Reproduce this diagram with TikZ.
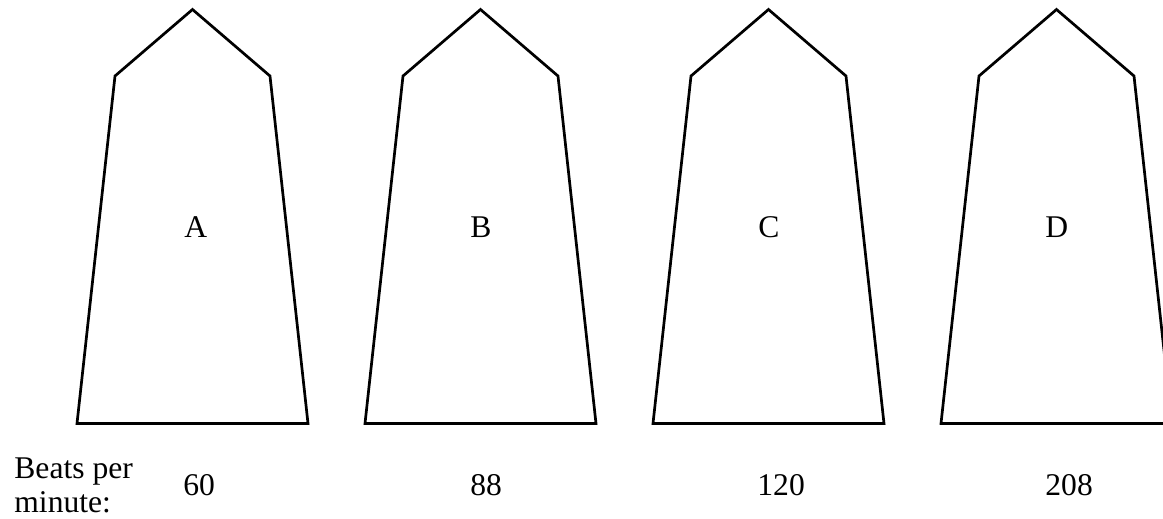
\documentclass[tikz,border=0pt]{standalone}
\usepackage{fontspec}
\setmainfont{Liberation Serif}
\usetikzlibrary{positioning}
\tikzset{
  weight/.style={draw=black, line width=1.35pt, line join=miter},
  tag/.style={anchor=base west, inner sep=0pt, font=\fontsize{15.8}{17}\selectfont},
}

\begin{document}
\begin{tikzpicture}[x=0.5pt,y=-0.5pt]
    \useasboundingbox (0,0) rectangle (1163,519);
    \clip (0,0) rectangle (1163,519);

    % the four weights, 288px apart
    \draw[weight, shift={(192.5,0)}] (-115.5,423.5) -- (-77.5,76) -- (0,9.5) -- (77.5,76) -- (115.5,423.5) -- cycle;
    \draw[weight, shift={(480.5,0)}] (-115.5,423.5) -- (-77.5,76) -- (0,9.5) -- (77.5,76) -- (115.5,423.5) -- cycle;
    \draw[weight, shift={(768.5,0)}] (-115.5,423.5) -- (-77.5,76) -- (0,9.5) -- (77.5,76) -- (115.5,423.5) -- cycle;
    \draw[weight, shift={(1056.5,0)}] (-115.5,423.5) -- (-77.5,76) -- (0,9.5) -- (77.5,76) -- (115.5,423.5) -- cycle;

    \node[tag] (lA) at (184,237) {A};
    \node[tag] (lB) at (470,237) {B};
    \node[tag] (lC) at (758,237) {C};
    \node[tag] (lD) at (1045,237) {D};

    % base of a two-line node sits on its last line
    \node[tag, align=left] (bpm) at (14,512) {Beats per\\minute:};
    \node[tag] (nA) at (183,495) {60};
    \node[tag] (nB) at (470,495) {88};
    \node[tag] (nC) at (757,495) {120};
    \node[tag] (nD) at (1045,495) {208};
\end{tikzpicture}
\end{document}
